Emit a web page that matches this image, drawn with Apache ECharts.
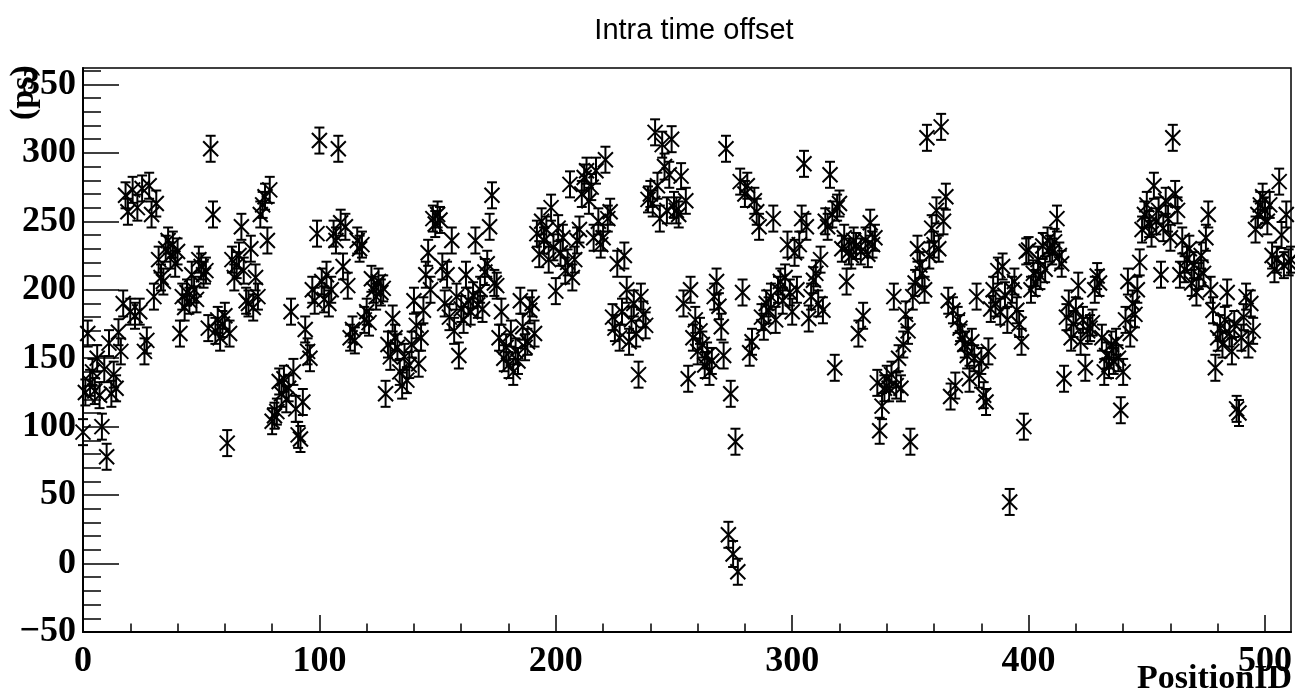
<!DOCTYPE html>
<html>
<head>
<meta charset="utf-8">
<script src="https://cdn.jsdelivr.net/npm/echarts@6/dist/echarts.min.js"></script>
<style>html,body{margin:0;padding:0;background:#fff;}#c{width:1295px;height:695px;}</style>
</head>
<body>
<div id="c"></div>
<script>
// ---- DATA ----
const titleText = "Intra time offset";
const xName = "PositionID";
const yName = "(ps)";
const xMajorTicks = [0, 100, 200, 300, 400, 500];
const xMinorTicks = [20,40,60,80,120,140,160,180,220,240,260,280,320,340,360,380,420,440,460,480];
const yMajorTicks = [-50, 0, 50, 100, 150, 200, 250, 300, 350];
const yMinorTicks = [-40,-30,-20,-10,10,20,30,40,60,70,80,90,110,120,130,140,160,170,180,190,210,220,230,240,260,270,280,290,310,320,330,340,360];
const errorHalf = 9.5;
// offsets per PositionID 0..511 (ps)
const offsets = [
96,125,168,132,140,126,150,123,100,142,78,161,124,138,128,169,155,190,269,257,
184,273,181,260,184,274,155,163,276,255,195,263,222,209,206,230,236,225,233,219,
228,168,195,187,198,192,211,200,193,222,217,211,214,172,303,255,170,178,165,175,
181,88,168,222,209,218,225,246,214,192,190,230,187,209,195,255,262,268,236,273,
104,108,111,133,124,135,120,128,184,140,113,94,91,118,171,155,150,200,192,241,
309,206,193,211,190,200,241,236,303,249,217,246,203,165,171,163,236,230,233,178,
184,176,208,200,195,206,198,201,124,160,151,179,165,158,140,130,151,134,145,160,
192,174,146,165,185,211,227,200,252,248,255,251,217,190,211,180,236,170,195,152,
186,178,211,192,184,196,236,189,200,186,213,219,246,269,205,203,165,184,150,158,
145,168,140,155,148,192,173,158,162,185,190,168,241,226,250,236,244,222,260,231,
199,245,227,238,214,220,277,209,222,236,244,270,282,287,265,275,238,287,250,233,
238,295,252,257,180,172,219,165,184,225,200,162,178,190,168,138,195,182,174,266,
270,263,315,276,252,306,290,258,284,310,262,258,255,283,190,265,135,200,165,178,
155,170,160,145,152,140,148,195,206,188,173,152,303,21,124,7,89,-6,279,198,
270,276,154,162,265,257,246,180,173,190,185,195,252,178,200,206,192,209,233,198,
184,227,200,233,252,292,246,179,195,207,212,190,222,185,250,246,284,255,143,260,
263,230,238,206,228,225,236,232,168,228,181,236,226,249,233,238,132,97,115,128,
135,128,138,195,130,150,128,160,182,170,89,195,205,230,218,212,200,311,225,245,
233,258,230,319,250,268,192,122,185,130,178,172,165,160,152,135,162,150,195,138,
148,123,118,155,186,200,190,214,184,217,196,178,45,200,206,185,175,162,100,228,
229,200,212,205,222,210,232,215,236,230,228,235,252,225,219,135,180,190,165,175,
185,203,162,178,143,170,172,176,200,210,205,165,140,152,145,160,148,162,150,112,
140,178,206,168,190,182,200,220,244,255,262,248,241,276,250,258,211,245,265,252,
238,311,270,258,211,236,215,222,230,205,218,198,210,225,212,238,255,200,185,143,
165,172,160,178,198,168,155,175,113,110,165,180,195,160,190,170,244,255,262,268,
258,250,262,225,215,222,279,240,218,255,220,222
];
// ---- CHART ----
const points = offsets.map((v, i) => [i, v]);
const chart = echarts.init(document.getElementById('c'), null, {renderer: 'canvas'});
const X_MIN = 0, X_MAX = 511, Y_MIN = -50, Y_MAX = 362;
const lblFont = {fontFamily: 'Liberation Serif', fontWeight: 'bold', fontSize: 36, color: '#000'};
const STROKE = '#000';
function renderPoint(params, api) {
  const x = api.value(0), v = api.value(1);
  const p = api.coord([x, v]);
  const t = api.coord([x, v + errorHalf]);
  const b = api.coord([x, v - errorHalf]);
  const m = 7.5, cw = 5;
  const st = {stroke: STROKE, lineWidth: 2};
  return {type: 'group', children: [
    {type: 'line', shape: {x1: p[0], y1: t[1], x2: p[0], y2: b[1]}, style: st},
    {type: 'line', shape: {x1: p[0]-cw, y1: t[1], x2: p[0]+cw, y2: t[1]}, style: st},
    {type: 'line', shape: {x1: p[0]-cw, y1: b[1], x2: p[0]+cw, y2: b[1]}, style: st},
    {type: 'line', shape: {x1: p[0]-m, y1: p[1]-m, x2: p[0]+m, y2: p[1]+m}, style: st},
    {type: 'line', shape: {x1: p[0]-m, y1: p[1]+m, x2: p[0]+m, y2: p[1]-m}, style: st}
  ]};
}
const option = {
  animation: false,
  backgroundColor: '#fff',
  title: {text: titleText, left: 689, top: 11, textAlign: 'center',
    textStyle: {fontFamily: 'Liberation Sans', fontWeight: 'normal', fontSize: 29, color: '#000'}},
  grid: {left: 83, right: 3, top: 68, bottom: 63, show: true, borderColor: '#000', borderWidth: 1.5, backgroundColor: 'transparent'},
  xAxis: [
    {type: 'value', min: X_MIN, max: X_MAX, position: 'bottom',
      axisLine: {show: true, onZero: false, lineStyle: {color: '#000', width: 2}},
      axisTick: {show: true, inside: true, length: 17, customValues: xMajorTicks, lineStyle: {color: '#000', width: 1.5}},
      axisLabel: Object.assign({show: true, margin: 12, customValues: xMajorTicks}, lblFont),
      splitLine: {show: false}},
    {type: 'value', min: X_MIN, max: X_MAX, position: 'bottom',
      axisLine: {show: false, onZero: false},
      axisTick: {show: true, inside: true, length: 8.5, customValues: xMinorTicks, lineStyle: {color: '#000', width: 1.5}},
      axisLabel: {show: false}, splitLine: {show: false}}
  ],
  yAxis: [
    {type: 'value', min: Y_MIN, max: Y_MAX, position: 'left',
      axisLine: {show: true, onZero: false, lineStyle: {color: '#000', width: 2}},
      axisTick: {show: true, inside: true, length: 36, customValues: yMajorTicks, lineStyle: {color: '#000', width: 1.5}},
      axisLabel: Object.assign({show: true, margin: 7, customValues: yMajorTicks,
        formatter: (v) => (v < 0 ? '\u2212' + Math.abs(v) : String(v))}, lblFont),
      splitLine: {show: false}},
    {type: 'value', min: Y_MIN, max: Y_MAX, position: 'left',
      axisLine: {show: false, onZero: false},
      axisTick: {show: true, inside: true, length: 18, customValues: yMinorTicks, lineStyle: {color: '#000', width: 1.5}},
      axisLabel: {show: false}, splitLine: {show: false}}
  ],
  series: [{
    type: 'custom', xAxisIndex: 0, yAxisIndex: 0, clip: false,
    renderItem: renderPoint, data: points, encode: {x: 0, y: 1}
  }],
  graphic: [
    {type: 'text', right: 3, top: 662, style: {text: xName, font: 'bold 34px "Liberation Serif"', fill: '#000'}},
    {type: 'text', x: 7, y: 120, rotation: Math.PI / 2, style: {text: yName, font: 'bold 34px "Liberation Serif"', fill: '#000'}}
  ]
};
chart.setOption(option);
</script>
</body>
</html>
